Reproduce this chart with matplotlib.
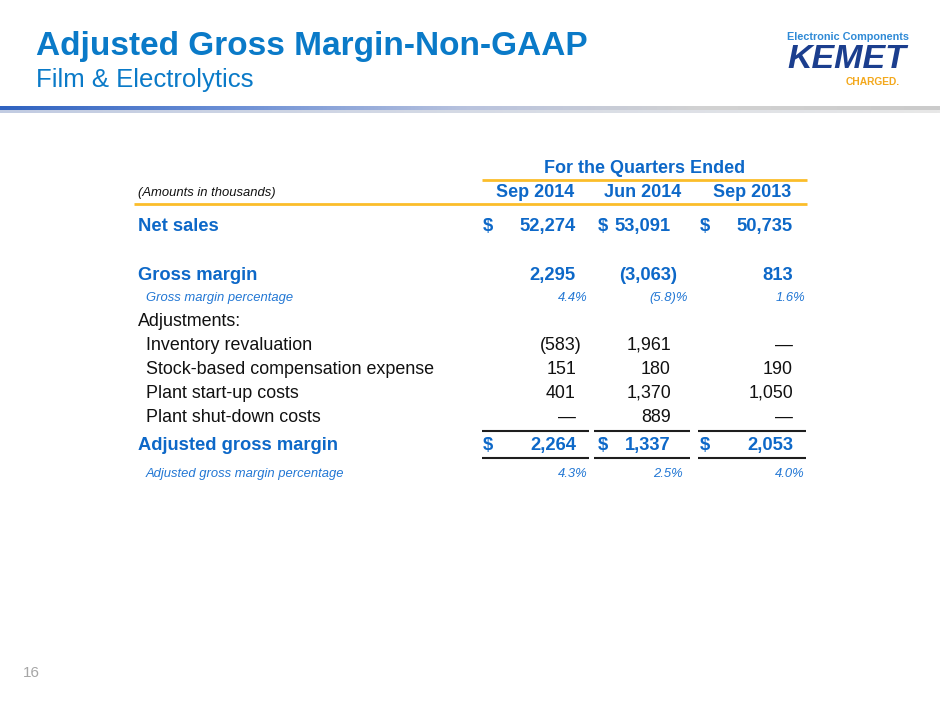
import matplotlib
matplotlib.use("Agg")
import matplotlib.pyplot as plt
import numpy as np
from matplotlib.colors import LinearSegmentedColormap

plt.rcParams['font.family'] = ['Liberation Sans', 'DejaVu Sans']

# ---------------- data ----------------
title = "Adjusted Gross Margin-Non-GAAP"
subtitle = "Film & Electrolytics"
group_header = "For the Quarters Ended"
units_note = "(Amounts in thousands)"
periods = ["Sep 2014", "Jun 2014", "Sep 2013"]
net_sales = [52274, 53091, 50735]
gross_margin = [2295, -3063, 813]
gross_margin_pct = [4.4, -5.8, 1.6]
adjustment_labels = ["Inventory revaluation", "Stock-based compensation expense",
                     "Plant start-up costs", "Plant shut-down costs"]
inventory_reval = [-583, 1961, None]
stock_comp = [151, 180, 190]
plant_startup = [401, 1370, 1050]
plant_shutdown = [None, 889, None]
adjusted_gm = [2264, 1337, 2053]
adjusted_gm_pct = [4.3, 2.5, 4.0]
page_number = "16"

# ---------------- styles ----------------
BLUE = '#0d68c8'
PCT_BLUE = '#2277d4'
TITLE_BLUE = '#0a7ac8'
ORANGE = '#fbbd2a'
BLACK = '#111111'

fig = plt.figure(figsize=(9.4, 7.05), dpi=100)
ax = fig.add_axes([0, 0, 1, 1])
ax.set_xlim(0, 940)
ax.set_ylim(705, 0)
ax.axis('off')

# title block
ax.text(36, 54.5, title, fontsize=24, fontweight='bold', color=TITLE_BLUE, va='baseline', ha='left')
ax.text(36, 87, subtitle, fontsize=18.5, color=TITLE_BLUE, va='baseline', ha='left')

# gradient rule under header
cmap = LinearSegmentedColormap.from_list('g', ['#2f62c0', '#6d90d6', '#b9c3de', '#d2d2d2', '#cbcbcb'])
grad = np.linspace(0, 1, 512).reshape(1, -1)
ax.imshow(grad, cmap=cmap, aspect='auto', extent=(0, 940, 110, 106), zorder=1)
shadow = LinearSegmentedColormap.from_list('s', ['#c2cce2', '#e8e8e8'])
ax.imshow(grad, cmap=shadow, aspect='auto', extent=(0, 940, 113, 110), zorder=1)

# logo
ax.text(848, 40.5, "Electronic Components", fontsize=7.8, fontweight='bold', color='#2f8ad6',
        ha='center', va='baseline')
ax.text(847, 68.5, "KEMET", fontsize=24.5, fontweight='bold', style='italic', color='#1b3e8e',
        ha='center', va='baseline')
ax.text(900, 85, "CHARGED.", fontsize=7.4, fontweight='bold', color='#f3a81c',
        ha='right', va='baseline')

# table geometry
label_x = 138
sub_x = 146
dollar_x = [483, 598, 700]
num_right = [576, 671, 793]
hdr_right = [574, 681, 791]
seg = [(482, 589), (594, 690), (698, 806)]
PAREN_HANG = 6
PCT_HANG = 12
PCT_PAREN_HANG = 17
BOLD_FS = 13.2
REG_FS = 12.9
SMALL_FS = 9.4


def fmt(v):
    if v is None:
        return "\u2014"
    s = f"{abs(v):,}"
    return f"({s})" if v < 0 else s


def num_row(y, vals, bold, color, dollars=False):
    fs = BOLD_FS if bold else REG_FS
    fw = 'bold' if bold else 'normal'
    for i, v in enumerate(vals):
        x = num_right[i] + (PAREN_HANG if (v is not None and v < 0) else 0)
        ax.text(x, y, fmt(v), fontsize=fs, fontweight=fw,
                color=color, ha='right', va='baseline')
        if dollars:
            ax.text(dollar_x[i], y, "$", fontsize=BOLD_FS, fontweight='bold', color=color,
                    ha='left', va='baseline')


def pct_row(y, vals):
    for i, v in enumerate(vals):
        if v < 0:
            s, hang = f"({abs(v):.1f})%", PCT_PAREN_HANG
        else:
            s, hang = f"{v:.1f}%", PCT_HANG
        ax.text(num_right[i] + hang, y, s, fontsize=SMALL_FS, style='italic', color=PCT_BLUE,
                ha='right', va='baseline')


# header
ax.text(645, 173, group_header, fontsize=13, fontweight='bold', color=BLUE, ha='center', va='baseline')
ax.plot([482, 807], [180, 180], color=ORANGE, lw=2.0, solid_capstyle='butt')
ax.text(label_x, 196, units_note, fontsize=SMALL_FS, style='italic', color=BLACK, ha='left', va='baseline')
for r, p in zip(hdr_right, periods):
    ax.text(r, 197, p, fontsize=13, fontweight='bold', color=BLUE, ha='right', va='baseline')
ax.plot([134, 807], [203.5, 203.5], color=ORANGE, lw=2.0, solid_capstyle='butt')

# net sales
ax.text(label_x, 231, "Net sales", fontsize=BOLD_FS, fontweight='bold', color=BLUE, va='baseline')
num_row(231, net_sales, True, BLUE, dollars=True)

# gross margin
ax.text(label_x, 280, "Gross margin", fontsize=BOLD_FS, fontweight='bold', color=BLUE, va='baseline')
num_row(280, gross_margin, True, BLUE)
ax.text(sub_x, 301, "Gross margin percentage", fontsize=SMALL_FS, style='italic', color=PCT_BLUE,
        va='baseline')
pct_row(301, gross_margin_pct)

# adjustments
ax.text(label_x, 326, "Adjustments:", fontsize=REG_FS, color=BLACK, va='baseline')
adj_rows = [inventory_reval, stock_comp, plant_startup, plant_shutdown]
for k, (lab, vals) in enumerate(zip(adjustment_labels, adj_rows)):
    y = 349.5 + 24.2 * k
    ax.text(sub_x, y, lab, fontsize=REG_FS, color=BLACK, va='baseline')
    num_row(y, vals, False, BLACK)

# rules around adjusted gross margin
for a, b in seg:
    ax.plot([a, b], [431, 431], color='#1e1e1e', lw=1.5, solid_capstyle='butt')
    ax.plot([a, b], [457.5, 457.5], color='#1e1e1e', lw=1.5, solid_capstyle='butt')

ax.text(label_x, 450, "Adjusted gross margin", fontsize=BOLD_FS, fontweight='bold', color=BLUE,
        va='baseline')
num_row(450, adjusted_gm, True, BLUE, dollars=True)
ax.text(sub_x, 477, "Adjusted gross margin percentage", fontsize=SMALL_FS, style='italic',
        color=PCT_BLUE, va='baseline')
pct_row(477, adjusted_gm_pct)

# page number
ax.text(23, 677, page_number, fontsize=11, color='#a6a6a6', ha='left', va='baseline')

fig.savefig("out.png", dpi=100, facecolor='white')
